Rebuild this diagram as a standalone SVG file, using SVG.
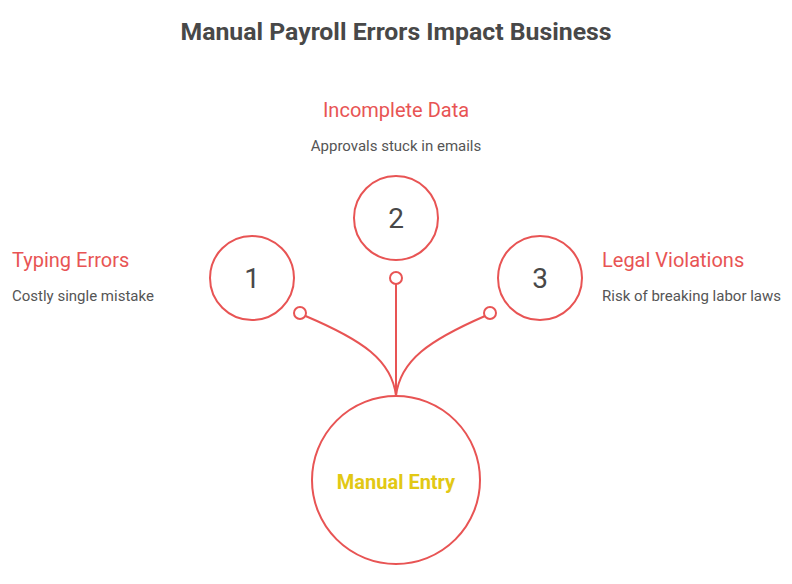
<svg xmlns="http://www.w3.org/2000/svg" width="792" height="584" viewBox="0 0 792 584">
<style>
.ring{fill:#fff;stroke:#e85454;stroke-width:2}
.dot{fill:#fff;stroke:#e85454;stroke-width:2}
.conn{fill:none;stroke:#e85454;stroke-width:2}
.title{font-family:Roboto,"Liberation Sans",sans-serif;font-weight:bold;font-size:24.8px;fill:#484848}
.head{font-family:Roboto,"Liberation Sans",sans-serif;font-size:20px;fill:#e85454}
.desc{font-family:Roboto,"Liberation Sans",sans-serif;font-size:15px;fill:#555}
.num{font-family:Roboto,"Liberation Sans",sans-serif;font-size:28px;fill:#484848}
.main{font-family:Roboto,"Liberation Sans",sans-serif;font-weight:bold;font-size:20px;fill:#e2c814}
</style>
<rect width="792" height="584" fill="#fff"/>
<text class="title" x="396" y="40" text-anchor="middle">Manual Payroll Errors Impact Business</text>
<g id="connectors">
<path class="conn" d="M396 396 L396 284"/>
<path class="conn" d="M396 396 C392 360 362 340 305.5 316"/>
<path class="conn" d="M396 396 C400 360 430 340 485 316"/>
<circle class="dot" cx="396" cy="278" r="6"/>
<circle class="dot" cx="300" cy="313" r="6"/>
<circle class="dot" cx="490" cy="313" r="6"/>
</g>
<g id="node-main">
<circle class="ring" cx="396" cy="480" r="84"/>
<text class="main" x="396" y="489" text-anchor="middle">Manual Entry</text>
</g>
<g id="node-1">
<circle class="ring" cx="252" cy="278" r="42"/>
<text class="num" x="252" y="288" text-anchor="middle">1</text>
<text class="head" x="12" y="267">Typing Errors</text>
<text class="desc" x="12" y="301">Costly single mistake</text>
</g>
<g id="node-2">
<circle class="ring" cx="396" cy="218" r="42"/>
<text class="num" x="396" y="228" text-anchor="middle">2</text>
<text class="head" x="396" y="117" text-anchor="middle">Incomplete Data</text>
<text class="desc" x="396" y="151" text-anchor="middle">Approvals stuck in emails</text>
</g>
<g id="node-3">
<circle class="ring" cx="540" cy="278" r="42"/>
<text class="num" x="540" y="288" text-anchor="middle">3</text>
<text class="head" x="602" y="267">Legal Violations</text>
<text class="desc" x="602" y="301">Risk of breaking labor laws</text>
</g>
</svg>
